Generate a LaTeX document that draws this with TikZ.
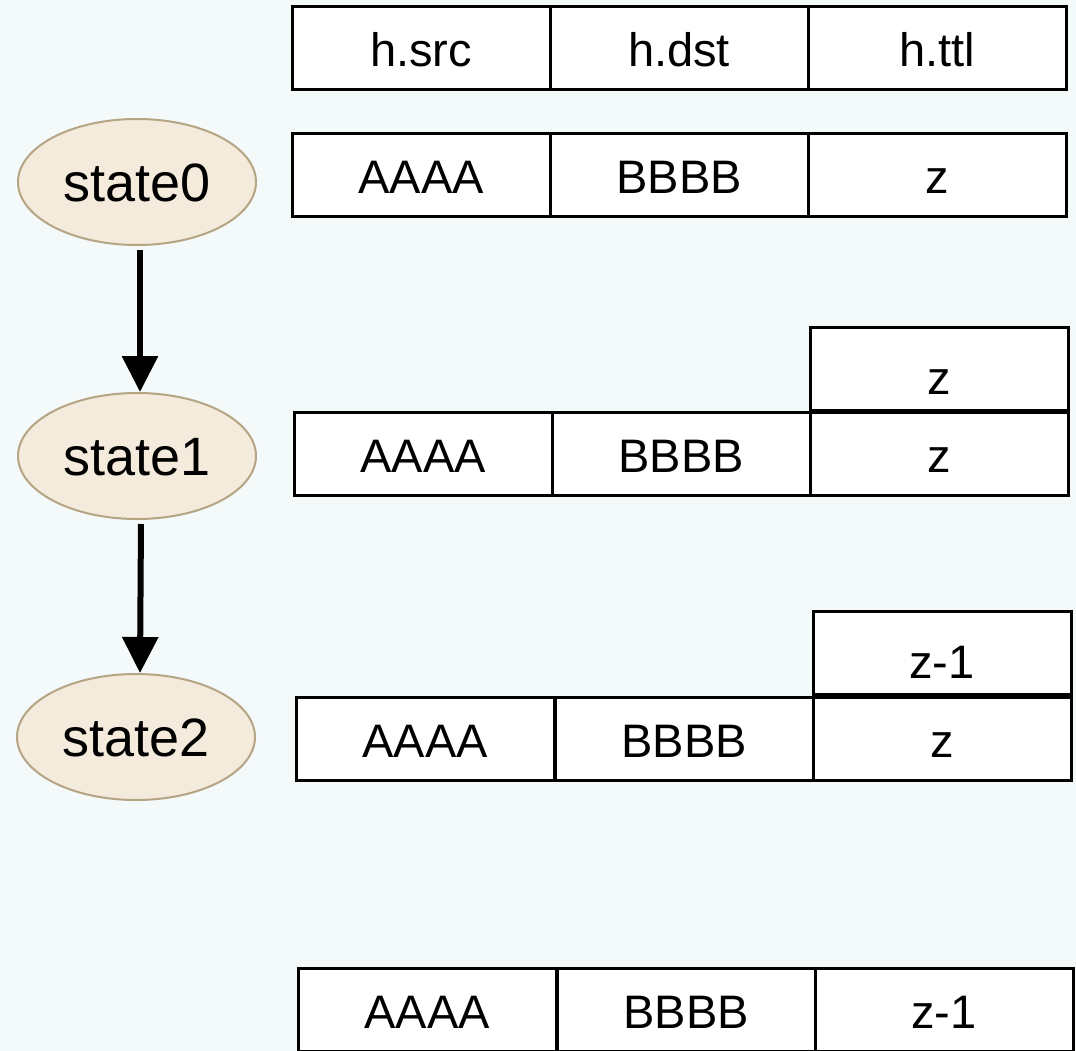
\documentclass[tikz,border=0pt]{standalone}
\usepackage{fontspec}
\setmainfont{Liberation Sans}
\usetikzlibrary{arrows.meta,shapes.geometric}
\definecolor{bgcol}{RGB}{244,249,250}
\definecolor{statefill}{RGB}{245,235,220}
\definecolor{stateline}{RGB}{181,165,132}
\begin{document}
\begin{tikzpicture}[x=1pt,y=-1pt,
  cell/.style={draw=black, fill=white, line width=3pt,
    minimum width=258pt, minimum height=83pt, inner sep=0pt,
    font=\fontsize{47}{50}\selectfont, text height=37pt, text depth=0pt},
  newttl/.style={cell, text height=51pt},
  state/.style={ellipse, draw=stateline, fill=statefill, line width=2pt,
    minimum width=238pt, minimum height=126pt, inner sep=0pt,
    font=\fontsize{54}{58}\selectfont, text height=39pt, text depth=0pt},
  flow/.style={line width=6pt, shorten <=4pt,
    -{Triangle[length=36pt,width=35pt]}}]

\useasboundingbox (0,0) rectangle (1076,1051);
\fill[bgcol] (0,0) rectangle (1076,1051);
\clip (0,0) rectangle (1076,1051);

% states
\node[state] (s0) at (137,182) {state0};
\node[state] (s1) at (137,456) {state1};
\node[state] (s2) at (136,737) {state2};

\draw[flow] ([xshift=3pt]s0.south) -- ([xshift=3pt]s1.north);
\draw[flow] ([xshift=4pt]s1.south) -- ([xshift=4pt]s2.north);

% header
\node[cell] (hsrc) at (421,48) {h.src};
\node[cell] (hdst) at (679,48) {h.dst};
\node[cell] (httl) at (937,48) {h.ttl};

% packet at state0
\node[cell] (a0) at (421,175.5) {AAAA};
\node[cell] (b0) at (679,175.5) {BBBB};
\node[cell] (t0) at (937,175.5) {z};

% packet at state1
\node[newttl] (n1) at (939,369) {z};
\node[cell] (a1) at (423,454) {AAAA};
\node[cell] (b1) at (681,454) {BBBB};
\node[cell] (t1) at (939,454) {z};

% packet at state2
\node[newttl] (n2) at (942,652.5) {z-1};
\node[cell] (a2) at (425,738.5) {AAAA};
\node[cell] (b2) at (684,738.5) {BBBB};
\node[cell] (t2) at (942,738.5) {z};

% resulting packet
\node[cell] (a3) at (427,1009.5) {AAAA};
\node[cell] (b3) at (686,1009.5) {BBBB};
\node[cell] (t3) at (944,1009.5) {z-1};
\end{tikzpicture}
\end{document}
